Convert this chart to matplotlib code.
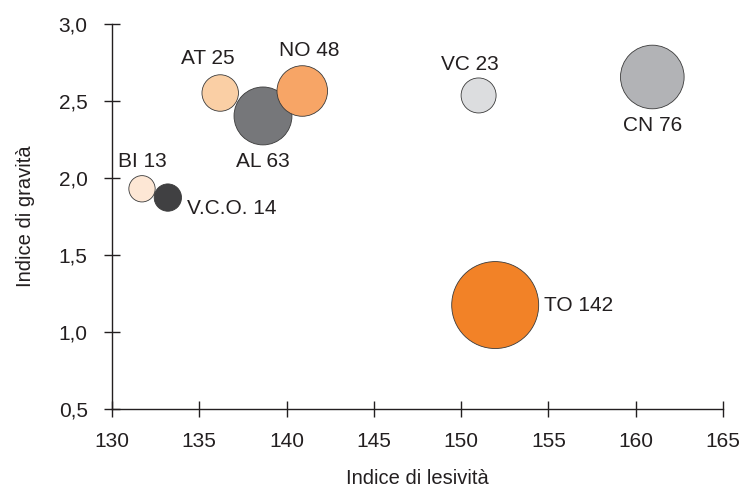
import matplotlib.pyplot as plt
from matplotlib.ticker import FuncFormatter

plt.rcParams['font.family'] = ['Liberation Sans', 'DejaVu Sans']

# province data: injury index (x), severity index (y), count (bubble size)
province = ["BI", "V.C.O.", "AT", "AL", "NO", "VC", "CN", "TO"]
lesivita = [131.72, 133.2, 136.2, 138.65, 140.9, 151.0, 160.95, 151.95]
gravita = [1.93, 1.873, 2.552, 2.403, 2.565, 2.536, 2.656, 1.175]
count = [13, 14, 25, 63, 48, 23, 76, 142]
colors = ["#FDE7D5", "#404042", "#FACFA5", "#76777A", "#F7A566",
          "#DCDDDF", "#B2B3B6", "#F28227"]
# where the label goes relative to the bubble, plus a small shift (pt)
where = ["above", "right", "above", "below", "above", "above", "below", "right"]
shift = [(0, 1), (0, -8), (-9, 3), (0, -3), (5, 2), (-6, 1), (0, -3), (0, 0)]

fig = plt.figure(figsize=(7.48, 4.90), dpi=100)
ax = fig.add_axes([0.1497, 0.1653, 0.8169, 0.7857])

k = 27.6
sizes = [k * c for c in count]
ax.scatter(lesivita, gravita, s=sizes, c=colors, edgecolors="#3a3a3a",
           linewidths=0.6, zorder=3)

for name, x, y, c, s, w, d in zip(province, lesivita, gravita, count, sizes, where, shift):
    r = s ** 0.5 / 2
    if w == "above":
        off, ha, va = (d[0], r + 2 + d[1]), "center", "bottom"
    elif w == "below":
        off, ha, va = (d[0], -r - 2 + d[1]), "center", "top"
    else:
        off, ha, va = (r + 4 + d[0], d[1]), "left", "center"
    ax.annotate(f"{name} {c}", (x, y), xytext=off, textcoords="offset points",
                ha=ha, va=va, fontsize=15, color="#231f20")

ax.set_xlim(130, 165)
ax.set_ylim(0.5, 3.0)
ax.set_xticks(range(130, 166, 5))
ax.set_yticks([0.5, 1.0, 1.5, 2.0, 2.5, 3.0])
ax.yaxis.set_major_formatter(FuncFormatter(lambda v, p: f"{v:.1f}".replace(".", ",")))

for side in ["top", "right"]:
    ax.spines[side].set_visible(False)
for side in ["left", "bottom"]:
    ax.spines[side].set_linewidth(1.0)
    ax.spines[side].set_color("#231f20")

ax.tick_params(direction="inout", length=11, width=1.0, color="#231f20",
               labelsize=15, labelcolor="#231f20")
ax.tick_params(axis="x", pad=11)
ax.tick_params(axis="y", pad=12)
ax.set_xlabel("Indice di lesività", fontsize=14.5, color="#231f20", labelpad=13)
ax.set_ylabel("Indice di gravità", fontsize=14.5, color="#231f20", labelpad=17)

fig.savefig("out.png", dpi=100)
